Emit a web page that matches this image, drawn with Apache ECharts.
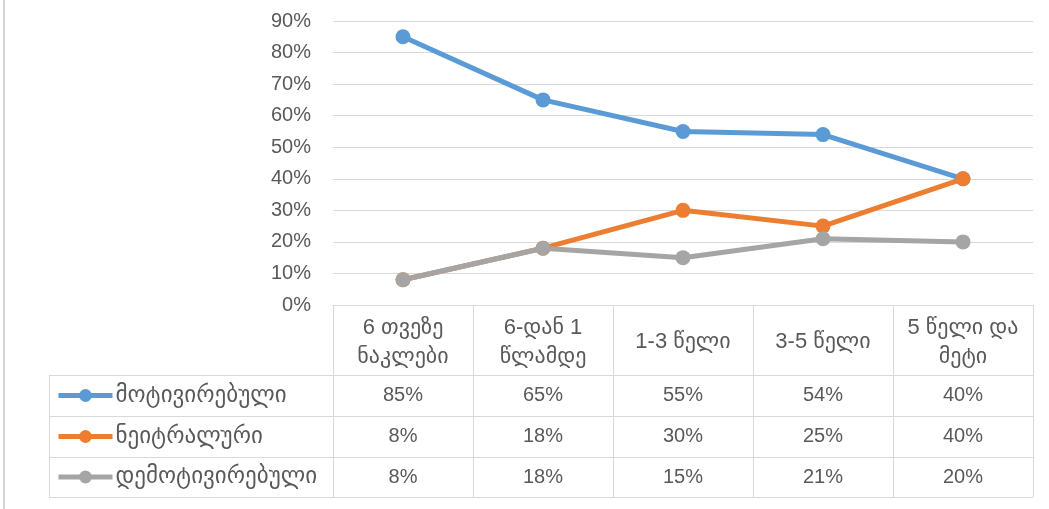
<!DOCTYPE html>
<html><head><meta charset="utf-8">
<script src="https://cdn.jsdelivr.net/npm/echarts@6/dist/echarts.min.js"></script>
<style>html,body{margin:0;padding:0;background:#fff}#c{width:1049px;height:509px}</style>
</head><body><div id="c"></div>
<script>
const categories = ['6 თვეზე\nნაკლები', '6-დან 1\nწლამდე', '1-3 წელი', '3-5 წელი', '5 წელი და\nმეტი'];
const seriesNames = ['მოტივირებული', 'ნეიტრალური', 'დემოტივირებული'];
const motivated = [85, 65, 55, 54, 40];
const neutral = [8, 18, 30, 25, 40];
const demotivated = [8, 18, 15, 21, 20];
const seriesData = [motivated, neutral, demotivated];
const colors = ['#5B9BD5', '#ED7D31', '#A5A5A5'];

const FONT = "'Liberation Sans','DejaVu Sans',sans-serif";
const TXT = '#595959';
const LINE = '#D9D9D9';
const PL = 333, PR = 1033, PT = 21, PB = 305;
const rowLines = [375, 416, 457, 497];
const legendLeft = 49;
const ICON_H = 16;

const chart = echarts.init(document.getElementById('c'));
const option = {
  animation: false,
  backgroundColor: '#fff',
  color: colors,
  grid: { left: PL, right: 1049 - PR, top: PT, bottom: 509 - PB, containLabel: false },
  xAxis: {
    type: 'category', data: categories, boundaryGap: true,
    axisLine: { show: true, lineStyle: { color: LINE, width: 1 } },
    axisTick: { show: true, length: rowLines[3] - PB, lineStyle: { color: LINE, width: 1 } },
    axisLabel: { interval: 0, color: TXT, fontFamily: FONT, fontSize: 22, lineHeight: 29,
      verticalAlign: 'middle', margin: 37, align: 'center' }
  },
  yAxis: {
    type: 'value', min: 0, max: 90, interval: 10,
    axisLine: { show: false }, axisTick: { show: false },
    splitLine: { lineStyle: { color: LINE, width: 1 } },
    axisLabel: { formatter: '{value}%', color: TXT, fontFamily: FONT, fontSize: 20, margin: 22 }
  },
  legend: seriesNames.map((n, i) => ({
    orient: 'horizontal', left: 56, padding: 0,
    top: (rowLines[i] + rowLines[i + 1]) / 2 - 13,
    itemWidth: 54, itemHeight: ICON_H, itemGap: 0,
    lineStyle: { width: 5 },
    textStyle: { color: TXT, fontFamily: FONT, fontSize: 23, lineHeight: 26, padding: [0, 0, 0, -2] },
    data: [n]
  })),
  series: seriesNames.map((n, i) => ({
    name: n, type: 'line', data: seriesData[i], symbol: 'circle', symbolSize: 15,
    lineStyle: { width: 5, color: colors[i] }, itemStyle: { color: colors[i] }
  }))
};
chart.setOption(option);

const g = [];
// left page border
g.push({ type: 'rect', shape: { x: 3, y: 0, width: 2, height: 509 }, style: { fill: '#D4D4D4' }, silent: true });
// horizontal table lines
rowLines.forEach(y => g.push({ type: 'line', shape: { x1: legendLeft, y1: y + 0.5, x2: PR, y2: y + 0.5 }, style: { stroke: LINE, lineWidth: 1 }, silent: true }));
// legend box left edge
g.push({ type: 'line', shape: { x1: legendLeft + 0.5, y1: rowLines[0], x2: legendLeft + 0.5, y2: rowLines[3] }, style: { stroke: LINE, lineWidth: 1 }, silent: true });
// values
seriesData.forEach((arr, r) => {
  const yc = (rowLines[r] + rowLines[r + 1]) / 2;
  arr.forEach((v, i) => {
    const x = chart.convertToPixel({ xAxisIndex: 0 }, i);
    g.push({ type: 'text', x: x, y: yc, silent: true,
      style: { text: v + '%', fill: TXT, font: '20px ' + FONT, align: 'center', verticalAlign: 'middle' } });
  });
});
chart.setOption({ graphic: g });
</script></body></html>
